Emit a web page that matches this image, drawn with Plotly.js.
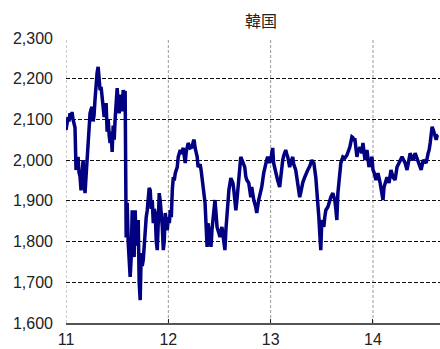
<!DOCTYPE html>
<html>
<head>
<meta charset="utf-8">
<script src="https://cdn.plot.ly/plotly-3.0.1.min.js"></script>
<style>
  html, body { margin: 0; padding: 0; background: #fff; }
  #chart { width: 440px; height: 349px; }
</style>
</head>
<body>
<div id="chart"></div>
<script>
// KOSPI index level, 2011 to mid-2014 (time as decimal year)
const years = [
  2011.000, 2011.010, 2011.020, 2011.029, 2011.039, 2011.049, 2011.059, 2011.069, 2011.078, 2011.088,
  2011.098, 2011.108, 2011.118, 2011.127, 2011.137, 2011.147, 2011.157, 2011.167, 2011.176, 2011.186,
  2011.196, 2011.206, 2011.216, 2011.225, 2011.235, 2011.245, 2011.255, 2011.265, 2011.274, 2011.284,
  2011.294, 2011.304, 2011.314, 2011.324, 2011.333, 2011.343, 2011.353, 2011.363, 2011.373, 2011.382,
  2011.392, 2011.402, 2011.412, 2011.422, 2011.431, 2011.441, 2011.451, 2011.461, 2011.471, 2011.480,
  2011.490, 2011.500, 2011.510, 2011.520, 2011.529, 2011.539, 2011.549, 2011.559, 2011.569, 2011.578,
  2011.588, 2011.598, 2011.608, 2011.617, 2011.627, 2011.637, 2011.647, 2011.657, 2011.666, 2011.676,
  2011.686, 2011.696, 2011.706, 2011.715, 2011.725, 2011.735, 2011.745, 2011.755, 2011.764, 2011.774,
  2011.784, 2011.794, 2011.804, 2011.813, 2011.823, 2011.833, 2011.843, 2011.853, 2011.862, 2011.872,
  2011.882, 2011.892, 2011.902, 2011.911, 2011.921, 2011.931, 2011.941, 2011.951, 2011.960, 2011.970,
  2011.980, 2011.990, 2012.000,
  2012.010, 2012.019, 2012.029, 2012.039, 2012.049, 2012.058, 2012.068, 2012.087, 2012.097, 2012.117,
  2012.126, 2012.146, 2012.165, 2012.175, 2012.194, 2012.214, 2012.233, 2012.243, 2012.252, 2012.262,
  2012.282, 2012.291, 2012.311, 2012.320, 2012.340, 2012.359, 2012.369, 2012.379, 2012.388, 2012.398,
  2012.417, 2012.427, 2012.437, 2012.456, 2012.466, 2012.476, 2012.495, 2012.505, 2012.524, 2012.534,
  2012.553, 2012.563, 2012.573, 2012.582, 2012.592, 2012.611, 2012.621, 2012.631, 2012.640, 2012.660,
  2012.670, 2012.679, 2012.689, 2012.699, 2012.708, 2012.728, 2012.747, 2012.757, 2012.767, 2012.786,
  2012.796, 2012.806, 2012.815, 2012.825, 2012.835, 2012.854, 2012.864, 2012.883, 2012.903, 2012.913,
  2012.932, 2012.951, 2012.961, 2012.971, 2012.990, 2013.000,
  2013.010, 2013.020, 2013.029, 2013.039, 2013.059, 2013.069, 2013.088, 2013.098, 2013.118, 2013.127,
  2013.147, 2013.157, 2013.167, 2013.186, 2013.196, 2013.216, 2013.225, 2013.245, 2013.265, 2013.274,
  2013.284, 2013.294, 2013.304, 2013.314, 2013.333, 2013.343, 2013.363, 2013.382, 2013.402, 2013.412,
  2013.422, 2013.441, 2013.451, 2013.461, 2013.471, 2013.480, 2013.490, 2013.500, 2013.510, 2013.520,
  2013.529, 2013.539, 2013.559, 2013.569, 2013.588, 2013.608, 2013.618, 2013.627, 2013.637, 2013.647,
  2013.657, 2013.667, 2013.686, 2013.706, 2013.725, 2013.745, 2013.765, 2013.774, 2013.794, 2013.804,
  2013.814, 2013.824, 2013.843, 2013.853, 2013.873, 2013.892, 2013.902, 2013.922, 2013.941, 2013.961,
  2013.980, 2013.990, 2014.000,
  2014.010, 2014.029, 2014.049, 2014.069, 2014.078, 2014.098, 2014.108, 2014.127, 2014.137, 2014.157,
  2014.176, 2014.196, 2014.216, 2014.235, 2014.255, 2014.265, 2014.284, 2014.304, 2014.314, 2014.333,
  2014.353, 2014.363, 2014.382, 2014.392, 2014.412, 2014.431, 2014.441, 2014.461, 2014.471, 2014.490,
  2014.510, 2014.520, 2014.539, 2014.549, 2014.559, 2014.569, 2014.578, 2014.588, 2014.598, 2014.608,
  2014.618, 2014.627, 2014.637
];

const kospi = [
  2074, 2090, 2105, 2095, 2115, 2100, 2118, 2100, 2085, 2080,
  1976, 1990, 2008, 1970, 1960, 1926, 1975, 2000, 1950, 1919,
  1960, 2000, 2050, 2070, 2115, 2125, 2131, 2095, 2110, 2150,
  2197, 2215, 2229, 2205, 2172, 2180, 2150, 2140, 2106, 2130,
  2140, 2070, 2100, 2060, 2042, 2070, 2020, 2085, 2050, 2100,
  2140, 2177, 2140, 2115, 2150, 2160, 2120, 2172, 2160, 2170,
  1810, 1895, 1797, 1740, 1713, 1760, 1877, 1800, 1762, 1877,
  1790, 1811, 1853, 1700, 1656, 1772, 1740, 1755, 1800, 1845,
  1860, 1877, 1900, 1932, 1926, 1880, 1902, 1845, 1880, 1870,
  1800, 1779, 1850, 1919, 1900, 1870, 1836, 1779, 1800, 1870,
  1850, 1828, 1860,
  1845, 1877, 1860, 1927, 1958, 1950, 1968, 1983, 2008, 2025,
  2015, 2030, 1993, 2020, 2042, 2030, 2032, 2045, 2050, 2030,
  2008, 1983, 1990, 1976, 1934, 1895, 1840, 1787, 1845, 1820,
  1787, 1830, 1860, 1902, 1870, 1836, 1820, 1811, 1836, 1820,
  1779, 1830, 1877, 1900, 1927, 1956, 1950, 1944, 1927, 1877,
  1900, 1927, 1960, 1983, 2008, 1995, 1983, 1960, 1951, 1944,
  1925, 1909, 1934, 1915, 1902, 1885, 1870, 1902, 1920, 1934,
  1968, 1995, 2000, 2008, 1993, 2000,
  2025, 2030, 1993, 1980, 1958, 1950, 1934, 1960, 2000, 2010,
  2025, 2015, 2008, 1983, 1995, 2008, 1990, 1976, 1944, 1925,
  1909, 1920, 1934, 1945, 1958, 1965, 1976, 1985, 2000, 1995,
  1993, 1958, 1930, 1902, 1860, 1820, 1779, 1853, 1840, 1836,
  1860, 1877, 1885, 1895, 1909, 1919, 1910, 1902, 1880, 1853,
  1919, 1950, 1993, 2008, 2005, 2012, 2025, 2032, 2057, 2055,
  2050, 2050, 2008, 2020, 2032, 2017, 2042, 2000, 2025, 1983,
  2000, 2008, 1976,
  1970, 1951, 1968, 1945, 1934, 1902, 1934, 1950, 1958, 1944,
  1976, 1958, 1951, 1983, 1995, 2000, 2008, 1998, 1993, 1976,
  2000, 2017, 2005, 2000, 2017, 2005, 1993, 1985, 1976, 2000,
  1995, 1993, 2017, 2025, 2042, 2060, 2082, 2075, 2066, 2055,
  2050, 2060, 2062
];

const yearTicks = [2011, 2012, 2013, 2014];
const yearLabels = ['11', '12', '13', '14'];
const levelTicks = [1600, 1700, 1800, 1900, 2000, 2100, 2200, 2300];

const labelFont = { family: 'Liberation Sans, Arial, sans-serif', size: 16, color: '#222' };

const trace = {
  x: years,
  y: kospi,
  type: 'scatter',
  mode: 'lines',
  line: { color: '#000080', width: 3.5 },
  hoverinfo: 'x+y'
};

// vertical year gridlines (grey dashed) drawn as shapes so they can differ from the horizontal ones
const yearGrid = yearTicks.map(v => ({
  type: 'line', xref: 'x', yref: 'paper', x0: v, x1: v, y0: 0, y1: 1,
  line: { color: '#999', width: 1, dash: '3px,2px' }, layer: 'below'
}));

const layout = {
  width: 440,
  height: 349,
  margin: { l: 66, r: 0, t: 38, b: 26 },
  paper_bgcolor: '#fff',
  plot_bgcolor: '#fff',
  showlegend: false,
  title: {
    text: '韓国',
    font: { family: 'Noto Sans CJK JP, sans-serif', size: 16, color: '#222' },
    x: 0.593, xref: 'container', xanchor: 'center',
    y: 0.94, yref: 'container', yanchor: 'middle'
  },
  xaxis: {
    range: [2011, 2014.655],
    tickvals: yearTicks,
    ticktext: yearLabels,
    ticks: 'inside',
    ticklen: 4,
    tickwidth: 1,
    tickcolor: '#222',
    showgrid: false,
    zeroline: false,
    showline: true,
    linecolor: '#555',
    linewidth: 2,
    tickfont: labelFont,
    ticklabelstandoff: 1,
    fixedrange: true
  },
  yaxis: {
    range: [1600, 2300],
    tickvals: levelTicks,
    tickformat: ',d',
    ticks: '',
    showgrid: true,
    gridcolor: '#111',
    gridwidth: 1,
    griddash: '4px,2px',
    zeroline: false,
    showline: false,
    tickfont: labelFont,
    ticklabelstandoff: 12,
    fixedrange: true
  },
  shapes: yearGrid
};

Plotly.newPlot('chart', [trace], layout, { displayModeBar: false, staticPlot: true });
</script>
</body>
</html>
